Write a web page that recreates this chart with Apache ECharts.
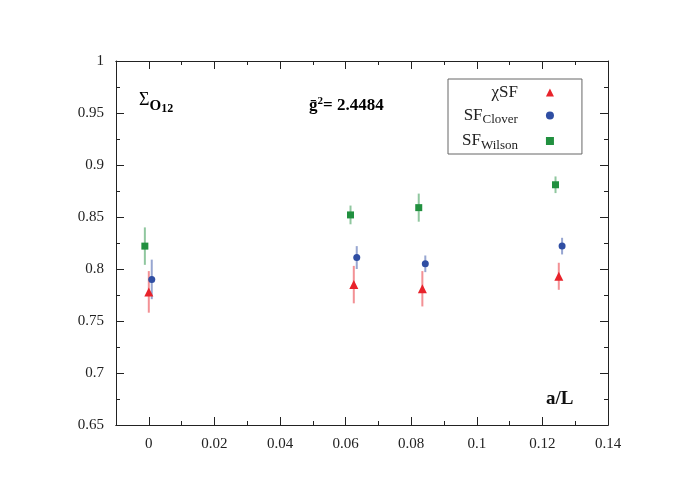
<!DOCTYPE html>
<html>
<head>
<meta charset="utf-8">
<script src="https://cdn.jsdelivr.net/npm/echarts@6/dist/echarts.min.js"></script>
<style>
    html, body { margin: 0; padding: 0; background: #fff; }
    #chart { width: 698px; height: 493px; }
</style>
</head>
<body>
<div id="chart"></div>
<script>
    // a/L, Sigma, error
    const chiSF = [[0.0000, 0.778, 0.020], [0.0625, 0.785, 0.018], [0.0834, 0.781, 0.017], [0.1250, 0.793, 0.013]];
    const sfClover = [[0.0009, 0.790, 0.019], [0.0634, 0.811, 0.011], [0.0843, 0.805, 0.008], [0.1260, 0.822, 0.008]];
    const sfWilson = [[-0.0012, 0.822, 0.018], [0.0615, 0.852, 0.009], [0.0823, 0.859, 0.0135], [0.1240, 0.881, 0.008]];

    const xMajor = [0, 0.02, 0.04, 0.06, 0.08, 0.1, 0.12, 0.14];
    const xMinor = [0.01, 0.03, 0.05, 0.07, 0.09, 0.11, 0.13];

    const RED = '#e8232b', BLUE = '#2f4ea3', GREEN = '#21903f';
    const SERIF = '"Liberation Serif", "DejaVu Serif", serif';

    const chart = echarts.init(document.getElementById('chart'));

    function errorBars(name, data, color) {
        return {
            name: name + ' err',
            type: 'custom',
            data: data,
            z: 1,
            silent: true,
            renderItem: function (params, api) {
                const p1 = api.coord([api.value(0), api.value(1) - api.value(2)]);
                const p2 = api.coord([api.value(0), api.value(1) + api.value(2)]);
                return {
                    type: 'line',
                    shape: {x1: p1[0], y1: p1[1], x2: p2[0], y2: p2[1]},
                    style: {stroke: color, lineWidth: 2, opacity: 0.5}
                };
            }
        };
    }

    function xAxisDef(pos, ticks, len, labels) {
        return {
            type: 'value', position: pos, min: -0.01, max: 0.14,
            axisLine: {show: true, onZero: false, lineStyle: {color: '#222', width: 1}},
            axisTick: {show: true, inside: true, length: len, customValues: ticks, lineStyle: {color: '#222'}},
            axisLabel: labels ? {
                customValues: xMajor, margin: 12, color: '#222', fontFamily: SERIF, fontSize: 15,
                formatter: v => String(+v.toFixed(2))
            } : {show: false},
            splitLine: {show: false}
        };
    }

    function yAxisDef(pos, labels) {
        return {
            type: 'value', position: pos, min: 0.65, max: 1, interval: 0.05,
            axisLine: {show: true, onZero: false, lineStyle: {color: '#222', width: 1}},
            axisTick: {show: true, inside: true, length: 8, lineStyle: {color: '#222'}},
            minorTick: {show: true, splitNumber: 2, length: 4, lineStyle: {color: '#222'}},
            axisLabel: labels ? {margin: 12, color: '#222', fontFamily: SERIF, fontSize: 15,
                formatter: v => String(+v.toFixed(2))} : {show: false},
            splitLine: {show: false}
        };
    }

    const legendNames = {
        'chiSF': '{m|χSF}',
        'SFClover': '{m|SF}{s|Clover}',
        'SFWilson': '{m|SF}{s|Wilson}'
    };

    const option = {
        animation: false,
        grid: {left: 116, right: 90, top: 61, bottom: 68},
        xAxis: [
            xAxisDef('bottom', xMajor, 8, true),
            xAxisDef('bottom', xMinor, 4, false),
            xAxisDef('top', xMajor, 8, false),
            xAxisDef('top', xMinor, 4, false)
        ],
        yAxis: [yAxisDef('left', true), yAxisDef('right', false)],
        legend: {
            data: ['chiSF', 'SFClover', 'SFWilson'],
            orient: 'vertical', align: 'right',
            left: 448, top: 79,
            padding: [5, 28, 2, 14],
            itemGap: 6, itemWidth: 8, itemHeight: 8,
            borderColor: '#666', borderWidth: 1,
            formatter: name => legendNames[name],
            textStyle: {
                padding: [0, 23, 0, 0],
                rich: {
                    m: {fontFamily: SERIF, fontSize: 17, color: '#222', height: 20},
                    s: {fontFamily: SERIF, fontSize: 13, color: '#222', padding: [9, 0, 0, 0]}
                }
            }
        },
        graphic: [
            {
                type: 'text', left: 139, top: 91,
                style: {
                    text: '{a|Σ}{b|O}{c|12}',
                    rich: {
                        a: {fontFamily: SERIF, fontSize: 18, color: '#111'},
                        b: {fontFamily: SERIF, fontSize: 15, fontWeight: 'bold', color: '#111', padding: [12, 0, 0, 0]},
                        c: {fontFamily: SERIF, fontSize: 12, fontWeight: 'bold', color: '#111', padding: [18, 0, 0, 0]}
                    }
                }
            },
            {
                type: 'text', left: 309, top: 96,
                style: {
                    text: '{g|ḡ}{p|2}{g|= 2.4484}',
                    rich: {
                        g: {fontFamily: SERIF, fontSize: 17, fontWeight: 'bold', color: '#111'},
                        p: {fontFamily: SERIF, fontSize: 11, fontWeight: 'bold', color: '#111', padding: [0, 0, 9, 0]}
                    }
                }
            },
            {
                type: 'text', left: 546, top: 390,
                style: {text: 'a/L', fontFamily: SERIF, fontSize: 19, fontWeight: 'bold', fill: '#111'}
            }
        ],
        series: [
            errorBars('chiSF', chiSF, RED),
            errorBars('SFClover', sfClover, BLUE),
            errorBars('SFWilson', sfWilson, GREEN),
            {name: 'chiSF', type: 'scatter', data: chiSF, symbol: 'triangle', symbolSize: 9, itemStyle: {color: RED, opacity: 1}, z: 3},
            {name: 'SFClover', type: 'scatter', data: sfClover, symbol: 'circle', symbolSize: 7, itemStyle: {color: BLUE, opacity: 1}, z: 3},
            {name: 'SFWilson', type: 'scatter', data: sfWilson, symbol: 'rect', symbolSize: 7, itemStyle: {color: GREEN, opacity: 1}, z: 3}
        ]
    };

    chart.setOption(option);
</script>
</body>
</html>
